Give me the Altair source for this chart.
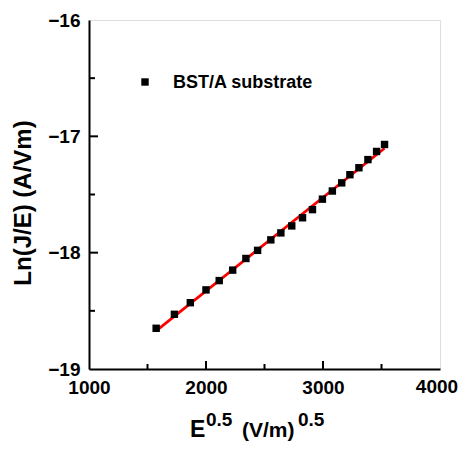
import altair as alt
import pandas as pd

# data
e_sqrt = [1574, 1730, 1866, 2000, 2113, 2228, 2341, 2441, 2554, 2640, 2733,
          2825, 2910, 2995, 3080, 3160, 3230, 3307, 3384, 3458, 3526]
ln_je = [-18.65, -18.53, -18.43, -18.32, -18.24, -18.15, -18.05, -17.98, -17.89,
         -17.83, -17.77, -17.70, -17.63, -17.54, -17.47, -17.40, -17.33, -17.27,
         -17.20, -17.13, -17.07]
x_major = [1000, 2000, 3000, 4000]
x_minor = [1500, 2500, 3500]
y_major = [-19, -18, -17, -16]
y_minor = [-18.5, -17.5, -16.5]
legend_label = "BST/A substrate"

W, H = 351, 349
FONT = "Liberation Sans"
LFS = 19

df = pd.DataFrame({"x": e_sqrt, "y": ln_je})

xs = alt.Scale(domain=[1000, 4000], nice=False, zero=False)
ys = alt.Scale(domain=[-19, -16], nice=False, zero=False)

base = alt.Chart(df)

points = base.mark_square(size=55, color="black", opacity=1).encode(
    x=alt.X("x:Q", scale=xs,
            axis=alt.Axis(title=None, values=x_major, format="d", ticks=False, tickSize=0,
                          labelPadding=9, labelFontSize=LFS, labelFontWeight="bold",
                          labelColor="black", labelFont=FONT, domainColor="black",
                          domainWidth=2, grid=False, labelFlush=False,
                          labelExpr="datum.value == 4000 ? '' : datum.label")),
    y=alt.Y("y:Q", scale=ys,
            axis=alt.Axis(title=None, values=y_major, format="d", ticks=False, tickSize=0,
                          labelPadding=9, labelFontSize=LFS, labelFontWeight="bold",
                          labelColor="black", labelFont=FONT, domainColor="black",
                          domainWidth=2, grid=False, labelFlush=False)),
)

# last x label drawn separately, nudged so that it stays on the page
last_lbl = alt.Chart(pd.DataFrame({"x": x_major[-1:]})).mark_text(
    align="center", baseline="top", fontSize=LFS, fontWeight="bold", font=FONT,
    color="black", dx=-3
).encode(x=alt.X("x:Q", scale=xs), y=alt.value(H + 9), text=alt.Text("x:Q", format="d"))

fit = base.transform_regression("x", "y", method="linear").mark_line(
    color="#ff0000", strokeWidth=2.8
).encode(x=alt.X("x:Q", scale=xs), y=alt.Y("y:Q", scale=ys))

xt_major = alt.Chart(pd.DataFrame({"x": x_major[1:-1]})).mark_rule(
    color="black", strokeWidth=2
).encode(x=alt.X("x:Q", scale=xs), y=alt.value(H), y2=alt.value(H - 8))
xt_minor = alt.Chart(pd.DataFrame({"x": x_minor})).mark_rule(
    color="black", strokeWidth=2
).encode(x=alt.X("x:Q", scale=xs), y=alt.value(H), y2=alt.value(H - 5))
yt_major = alt.Chart(pd.DataFrame({"y": y_major[1:-1]})).mark_rule(
    color="black", strokeWidth=2
).encode(y=alt.Y("y:Q", scale=ys), x=alt.value(0), x2=alt.value(9))
yt_minor = alt.Chart(pd.DataFrame({"y": y_minor})).mark_rule(
    color="black", strokeWidth=2
).encode(y=alt.Y("y:Q", scale=ys), x=alt.value(0), x2=alt.value(6))

legend_sym = alt.Chart(pd.DataFrame({"t": [legend_label]})).mark_square(
    size=55, color="black", opacity=1
).encode(x=alt.value(56), y=alt.value(62))
legend_txt = alt.Chart(pd.DataFrame({"t": [legend_label]})).mark_text(
    align="left", baseline="alphabetic", fontSize=18, fontWeight="bold", font=FONT, color="black"
).encode(x=alt.value(84), y=alt.value(68), text="t:N")

ytitle = alt.Chart(pd.DataFrame({"t": ["Ln(J/E) (A/Vm)"]})).mark_text(
    angle=270, align="center", baseline="middle", fontSize=24, fontWeight="bold",
    font=FONT, color="black"
).encode(x=alt.value(-65), y=alt.value(183), text="t:N")

xtitle_parts = pd.DataFrame({
    "t": ["E", "0.5", "(V/m)", "0.5"],
    "px": [101, 117, 153, 209],
    "py": [417, 406, 417, 406],
    "fs": [23, 19, 21, 19],
})
xtitle_layers = []
for _, r in xtitle_parts.iterrows():
    xtitle_layers.append(
        alt.Chart(pd.DataFrame({"t": [r["t"]]})).mark_text(
            align="left", baseline="alphabetic", fontSize=int(r["fs"]), fontWeight="bold",
            font=FONT, color="black"
        ).encode(x=alt.value(int(r["px"])), y=alt.value(int(r["py"])), text="t:N")
    )

chart = alt.layer(
    fit, points, last_lbl, xt_major, xt_minor, yt_major, yt_minor, legend_sym, legend_txt,
    ytitle, *xtitle_layers
).properties(
    width=W, height=H,
    padding={"left": 81, "top": 12, "right": 18, "bottom": 74},
    autosize=alt.AutoSizeParams(type="none"),
).configure_view(stroke="black", strokeWidth=2).configure(background="white")

chart.save("out.html", embed_options={"renderer": "svg", "actions": False})
